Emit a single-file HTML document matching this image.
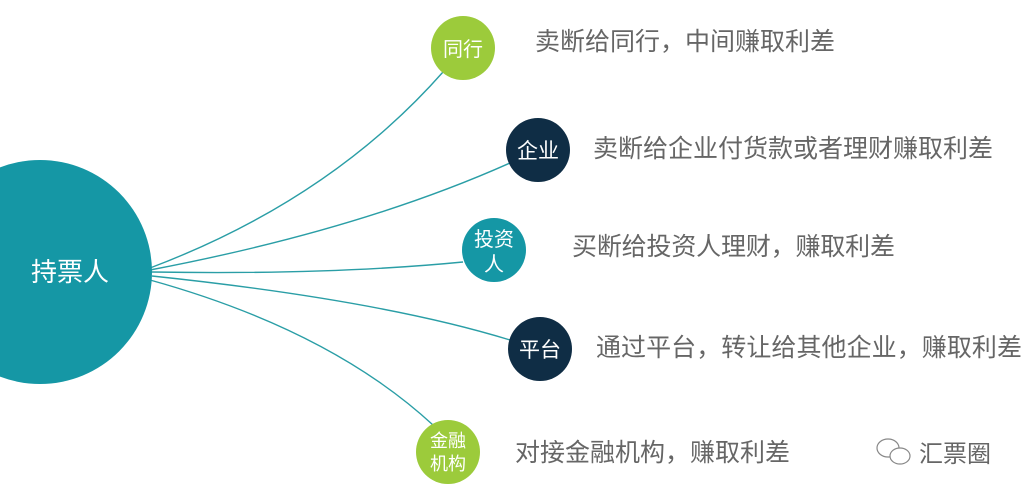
<!DOCTYPE html>
<html><head><meta charset="utf-8"><style>
body{margin:0;background:#fff;}
svg text{font-family:"Liberation Sans","Noto Sans CJK SC",sans-serif;}
</style></head><body>
<svg width="1031" height="496" viewBox="0 0 1031 496" xmlns="http://www.w3.org/2000/svg">
<g fill="none" stroke="#2a9ea6" stroke-width="1.4">
<path d="M150 268 Q330 200 443 72"/>
<path d="M150 270 Q360 230 510 163"/>
<path d="M152 272 Q330 275 463 262"/>
<path d="M152 276 Q380 300 510 340"/>
<path d="M150 280 Q330 330 433 425"/>
</g>
<circle cx="40" cy="272" r="112" fill="#1597a5"/>
<text x="70" y="281" font-size="26" fill="#fff" text-anchor="middle">持票人</text>
<circle cx="463" cy="48" r="32" fill="#9ccb3b"/>
<text x="463" y="56" font-size="20" fill="#fff" text-anchor="middle">同行</text>
<circle cx="538" cy="150" r="32" fill="#0f2d45"/>
<text x="538" y="158" font-size="21" fill="#fff" text-anchor="middle">企业</text>
<circle cx="494" cy="250" r="32" fill="#1597a5"/>
<text x="494" y="246" font-size="20" fill="#fff" text-anchor="middle">投资</text>
<text x="494" y="271" font-size="20" fill="#fff" text-anchor="middle">人</text>
<circle cx="540" cy="349" r="32" fill="#0f2d45"/>
<text x="540" y="357" font-size="21" fill="#fff" text-anchor="middle">平台</text>
<circle cx="448" cy="452" r="32" fill="#9ccb3b"/>
<text x="448" y="447" font-size="18" fill="#fff" text-anchor="middle">金融</text>
<text x="448" y="470" font-size="18" fill="#fff" text-anchor="middle">机构</text>
<g font-size="25" fill="#666">
<text x="535" y="50" textLength="300">卖断给同行，中间赚取利差</text>
<text x="593" y="157" textLength="400">卖断给企业付货款或者理财赚取利差</text>
<text x="572" y="255" textLength="323">买断给投资人理财，赚取利差</text>
<text x="596" y="356" textLength="426">通过平台，转让给其他企业，赚取利差</text>
<text x="515" y="461" textLength="275">对接金融机构，赚取利差</text>
</g>
<g fill="none" stroke="#888" stroke-width="1.2">
<ellipse cx="888" cy="448" rx="11" ry="9"/>
<ellipse cx="900" cy="456" rx="10" ry="8" fill="#fff"/>
</g>
<text x="919" y="462" font-size="24" fill="#666">汇票圈</text>
</svg>
</body></html>
